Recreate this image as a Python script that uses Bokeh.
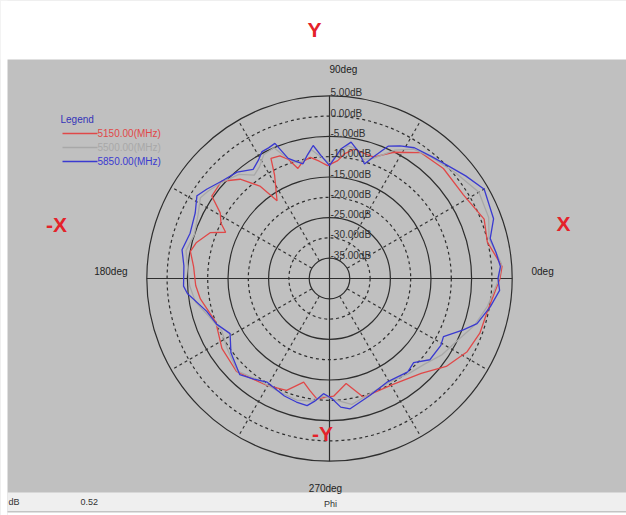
import numpy as np
from bokeh.plotting import figure
from bokeh.models import Range1d, Label, BoxAnnotation, ColumnDataSource
from bokeh.core.properties import value
from bokeh.embed import file_html
from bokeh.resources import INLINE

# ---------------- data (angle in degrees, gain in dB) ----------------
ang_5150 = [0, 4, 13, 21, 32, 44, 54, 63, 70, 75, 79, 83, 86, 91, 95, 99, 103, 106, 109, 112,
            116, 118, 124, 127, 132, 138, 145, 149, 153, 156, 159, 165, 169, 175, 183, 189,
            201, 213, 225, 240, 249, 256, 260, 264, 268, 272, 279, 286, 301, 314, 323, 332, 340, 348]
db_5150 = [2.0, 2.6, -0.1, 0.8, -1.1, -1.0, -1.7, -5.1, -8.2, -8.0, -7.5, -9.0, -10.9, -12.2, -11.0,
           -9.8, -10.5, -11.8, -9.0, -7.4, -7.1, -11.2, -16.9, -11.5, -7.1, -4.2, -4.6, -8.6, -10.0,
           -12.0, -8.5, -6.0, -5.1, -6.4, -7.0, -7.8, -10.0, -8.4, -7.6, -9.5, -10.5, -13.7, -12.0,
           -10.2, -10.7, -11.0, -13.8, -9.6, -9.6, -7.5, -4.0, -1.6, -0.6, -0.3]

ang_5500 = [0, 5, 14, 21, 30, 40, 50, 57, 63, 70, 74, 78, 82, 86, 90, 94, 98, 103, 107, 110, 113,
            118, 122, 126, 131, 138, 144, 148, 154, 162, 169, 176, 183, 190, 198, 206, 214, 225,
            235, 245, 255, 262, 267, 273, 280, 290, 300, 310, 318, 326, 334, 342, 350]
db_5500 = [1.8, 2.5, 0.5, 2.0, 2.5, 0.5, -1.0, -2.0, -4.5, -8.5, -9.5, -7.5, -7.0, -9.5, -11.5,
           -10.0, -8.0, -10.5, -10.0, -8.0, -5.0, -5.5, -7.5, -8.5, -6.0, -4.5, -3.2, -2.5, -4.0,
           -5.0, -4.0, -5.0, -5.5, -6.5, -9.0, -10.5, -9.5, -7.8, -9.5, -9.5, -9.0, -9.5, -11.0,
           -10.0, -8.5, -10.0, -10.5, -9.5, -8.5, -6.5, -5.0, -2.5, -0.5]

ang_5850 = [0, 4, 9, 14, 20, 30, 37, 44, 50, 57, 62, 66, 70, 73, 77, 81, 85, 90, 94, 97, 100, 103,
            106, 109, 112, 115, 118, 121, 125, 131, 138, 144, 148, 154, 162, 169, 175, 183, 186,
            195, 202, 209, 217, 227, 233, 239, 249, 255, 260, 263, 267, 271, 275, 279, 289, 299,
            310, 315, 321, 329, 333, 339, 343, 350, 356]
db_5850 = [1.5, 2.2, 1.5, 0.8, 3.0, 4.0, 2.0, 0.2, -0.8, -1.6, -3.0, -4.3, -8.0, -10.5, -8.0, -6.0,
           -8.0, -12.2, -9.6, -7.0, -9.0, -11.0, -10.0, -8.7, -4.1, -4.5, -4.6, -6.0, -7.2, -5.3,
           -4.2, -2.6, -1.5, -3.2, -3.9, -3.0, -4.0, -4.0, -4.8, -8.7, -10.0, -12.0, -9.6, -7.6,
           -9.0, -10.2, -9.0, -8.5, -8.2, -9.5, -11.6, -10.5, -8.2, -7.5, -9.5, -10.8, -10.0,
           -10.7, -8.2, -8.0, -8.5, -4.7, -2.0, 0.2, 2.0]

series_names = ["5150.00(MHz)", "5500.00(MHz)", "5850.00(MHz)"]
series_colors = ["#e04848", "#a8a8a8", "#3a3ad0"]

ring_db = [5, 0, -5, -10, -15, -20, -25, -30, -35]
ring_labels = ["5.00dB", "0.00dB", "-5.00dB", "-10.00dB", "-15.00dB", "-20.00dB",
               "-25.00dB", "-30.00dB", "-35.00dB"]
spoke_angles = [30, 60, 120, 150, 210, 240, 300, 330]
deg_labels = ["0deg", "90deg", "180deg", "270deg"]

# ---------------- scale ----------------
DB_MIN = -40.0
PX_PER_DB = 20.3 / 5.0


def rad(db):
    return (np.asarray(db, dtype=float) - DB_MIN) * PX_PER_DB


def polar(angles, dbs):
    a = np.deg2rad(np.asarray(angles, dtype=float))
    r = rad(dbs)
    x = r * np.cos(a)
    y = r * np.sin(a)
    return np.append(x, x[0]), np.append(y, y[0])


W, H = 626, 515
CX, CY = 329, 278  # polar centre (pixels from left / top)


def sx(X):
    return X - CX


def sy(Y):
    return CY - Y


p = figure(width=W, height=H, output_backend="svg", toolbar_location=None,
           x_range=Range1d(-CX, W - CX), y_range=Range1d(-(H - CY), CY),
           x_axis_location=None, y_axis_location=None, min_border=0,
           background_fill_color="#c0c0c0", border_fill_color="white",
           outline_line_color=None)
p.grid.visible = False

# white margins, status bar
p.add_layout(BoxAnnotation(bottom=sy(59), top=sy(-5), fill_color="white", fill_alpha=1,
                           line_color=None))
p.add_layout(BoxAnnotation(left=sx(-5), right=sx(7), fill_color="white", fill_alpha=1,
                           line_color=None))
p.add_layout(BoxAnnotation(bottom=sy(520), top=sy(511), left=sx(7), fill_color="white",
                           fill_alpha=1, line_color=None))
p.add_layout(BoxAnnotation(bottom=sy(511), top=sy(492), left=sx(7), fill_color="#efefef",
                           fill_alpha=1, line_color=None))
p.add_layout(BoxAnnotation(bottom=sy(512), top=sy(510.5), left=sx(7), fill_color="#c4c4c4",
                           fill_alpha=1, line_color=None))

FONT = "Liberation Sans"
GRID = "#2e2e2e"

# rings
for i, d in enumerate(ring_db):
    dash = "solid" if i % 2 == 0 else "3 3"
    p.circle(x=0, y=0, radius=float(rad(d)), fill_color=None, line_color=GRID,
             line_width=1.2, line_dash=dash)

r_out = float(rad(ring_db[0]))
r_in = float(rad(ring_db[-1]))
sa = np.deg2rad(spoke_angles)
p.segment(x0=r_in * np.cos(sa), y0=r_in * np.sin(sa), x1=r_out * np.cos(sa),
          y1=r_out * np.sin(sa), line_color=GRID, line_width=1.1, line_dash="3 3")
p.segment(x0=[-r_out, 0], y0=[0, -r_out], x1=[r_out, 0], y1=[0, r_out],
          line_color=GRID, line_width=1.2)

# curves
for ang, dbs, col in [(ang_5150, db_5150, series_colors[0]),
                      (ang_5500, db_5500, series_colors[1]),
                      (ang_5850, db_5850, series_colors[2])]:
    x, y = polar(ang, dbs)
    p.line(x, y, line_color=col, line_width=1.3)

# ring labels
src = ColumnDataSource(dict(x=[1.0] * len(ring_db), y=list(rad(ring_db) + 3), t=ring_labels))
p.text(x="x", y="y", text="t", source=src, text_font=value(FONT), text_font_size="10px",
       text_color="#303030", text_baseline="middle", text_align="left")

# degree labels
DEG = dict(text_font=FONT, text_font_size="10px", text_color="#222222", text_baseline="middle")
p.add_layout(Label(x=sx(531), y=sy(271), text=deg_labels[0], text_align="left", **DEG))
p.add_layout(Label(x=sx(329), y=sy(69), text=deg_labels[1], text_align="left", **DEG))
p.add_layout(Label(x=sx(127), y=sy(271), text=deg_labels[2], text_align="right", **DEG))
p.add_layout(Label(x=sx(325), y=sy(488), text=deg_labels[3], text_align="center", **DEG))

# legend
p.add_layout(Label(x=sx(60), y=sy(119), text="Legend", text_font=FONT, text_font_size="10px",
                   text_color="#3434b8", text_baseline="middle", text_align="left"))
for k, (nm, col) in enumerate(zip(series_names, series_colors)):
    yy = sy(133 + 14 * k)
    p.segment(x0=[sx(62)], y0=[yy], x1=[sx(97)], y1=[yy], line_color=col, line_width=1.3)
    p.add_layout(Label(x=sx(97), y=yy, text=nm, text_font=FONT, text_font_size="10px",
                       text_color=col, text_baseline="middle", text_align="left"))

# big red direction labels
RED = "#e4222a"
for txt, X, Y in [("Y", 314, 29), ("X", 563, 223), ("-X", 56, 224), ("-Y", 322, 433)]:
    p.add_layout(Label(x=sx(X), y=sy(Y), text=txt, text_font=FONT, text_font_size="21px",
                       text_font_style="bold", text_color=RED, text_baseline="middle",
                       text_align="center"))

# status bar texts
SBT = dict(text_font=FONT, text_font_size="9px", text_color="#333333", text_baseline="middle")
p.add_layout(Label(x=sx(8), y=sy(501), text="dB", text_align="left", **SBT))
p.add_layout(Label(x=sx(80), y=sy(501), text="0.52", text_align="left", **SBT))
p.add_layout(Label(x=sx(330), y=sy(503), text="Phi", text_align="center", **SBT))

open("out.html", "w").write(file_html(p, INLINE))
